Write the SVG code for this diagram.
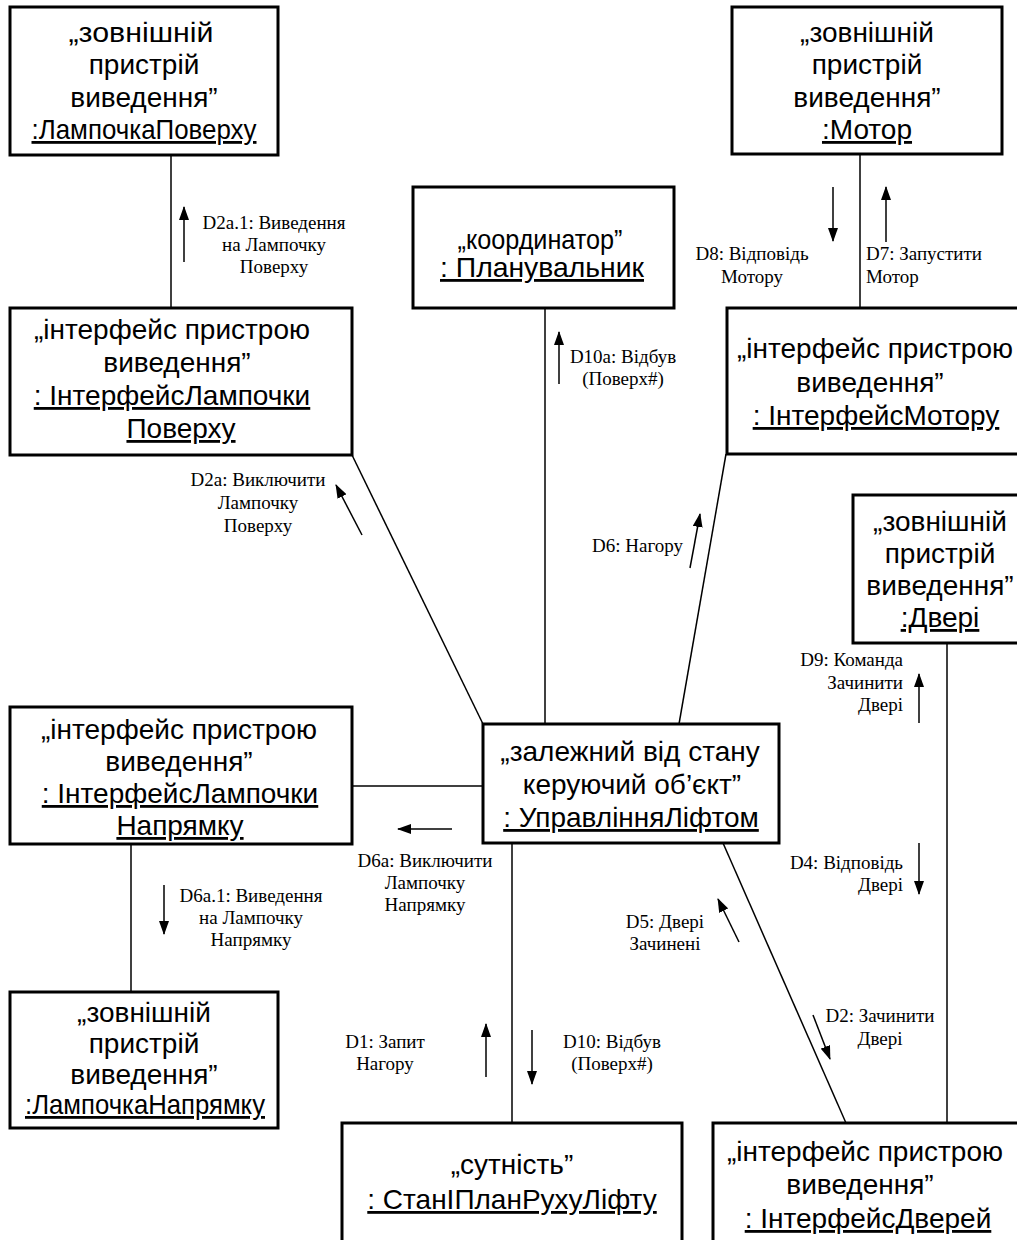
<svg xmlns="http://www.w3.org/2000/svg" width="1017" height="1240" viewBox="0 0 1017 1240">
  <style>
    .box { fill: #fff; stroke: #000; stroke-width: 3; }
    .link { stroke: #000; stroke-width: 1.5; fill: none; }
    .msg { stroke: #000; stroke-width: 1.5; fill: none; marker-end: url(#head); }
    .t { font-family: "Liberation Sans", Arial, sans-serif; font-size: 28px; fill: #000; text-anchor: middle; }
    .u { text-decoration: underline; }
    .lbl { font-family: "Liberation Serif", "Times New Roman", serif; font-size: 19px; fill: #000; text-anchor: middle; }
    .r { text-anchor: end; }
    .l { text-anchor: start; }
  </style>
  <defs>
    <marker id="head" viewBox="0 0 14 10" refX="13" refY="5" markerWidth="14" markerHeight="10" markerUnits="userSpaceOnUse" orient="auto">
      <path d="M0,0 L14,5 L0,10 z" fill="#000"/>
    </marker>
  </defs>
  <rect width="1017" height="1240" fill="#fff"/>

  <!-- links between objects -->
  <g id="connectors">
    <line class="link" x1="171" y1="155" x2="171" y2="308"/>
    <line class="link" x1="860" y1="154" x2="860" y2="308"/>
    <line class="link" x1="545" y1="308" x2="545" y2="724"/>
    <line class="link" x1="352" y1="455" x2="483" y2="724"/>
    <line class="link" x1="726" y1="454" x2="679" y2="724"/>
    <line class="link" x1="352" y1="786" x2="483" y2="786"/>
    <line class="link" x1="131" y1="844" x2="131" y2="992"/>
    <line class="link" x1="512" y1="843" x2="512" y2="1123"/>
    <line class="link" x1="723" y1="843" x2="846" y2="1123"/>
    <line class="link" x1="947" y1="643" x2="947" y2="1123"/>

    <!-- message arrows -->
    <line class="msg" x1="184" y1="262" x2="184" y2="207"/>
    <line class="msg" x1="833" y1="187" x2="833" y2="241"/>
    <line class="msg" x1="886" y1="242" x2="886" y2="187"/>
    <line class="msg" x1="559" y1="384" x2="559" y2="332"/>
    <line class="msg" x1="362" y1="535" x2="336" y2="485"/>
    <line class="msg" x1="690" y1="568" x2="700" y2="514"/>
    <line class="msg" x1="919" y1="723" x2="919" y2="674"/>
    <line class="msg" x1="452" y1="829" x2="398" y2="829"/>
    <line class="msg" x1="919" y1="843" x2="919" y2="894"/>
    <line class="msg" x1="164" y1="885" x2="164" y2="934"/>
    <line class="msg" x1="739" y1="942" x2="718" y2="899"/>
    <line class="msg" x1="486" y1="1077" x2="486" y2="1024"/>
    <line class="msg" x1="532" y1="1030" x2="532" y2="1084"/>
    <line class="msg" x1="813" y1="1015" x2="830" y2="1059"/>

    <!-- message labels -->
    <text class="lbl"><tspan x="274" y="229">D2a.1: Виведення</tspan><tspan x="274" y="251">на Лампочку</tspan><tspan x="274" y="273">Поверху</tspan></text>
    <text class="lbl"><tspan x="752" y="260">D8: Відповідь</tspan><tspan x="752" y="283">Мотору</tspan></text>
    <text class="lbl l"><tspan x="866" y="260">D7: Запустити</tspan><tspan x="866" y="283">Мотор</tspan></text>
    <text class="lbl"><tspan x="623" y="363">D10a: Відбув</tspan><tspan x="623" y="385">(Поверх#)</tspan></text>
    <text class="lbl"><tspan x="258" y="486">D2a: Виключити</tspan><tspan x="258" y="509">Лампочку</tspan><tspan x="258" y="532">Поверху</tspan></text>
    <text class="lbl r" x="683" y="552">D6: Нагору</text>
    <text class="lbl r"><tspan x="903" y="666">D9: Команда</tspan><tspan x="903" y="689">Зачинити</tspan><tspan x="903" y="711">Двері</tspan></text>
    <text class="lbl r"><tspan x="903" y="869">D4: Відповідь</tspan><tspan x="903" y="891">Двері</tspan></text>
    <text class="lbl"><tspan x="425" y="867">D6a: Виключити</tspan><tspan x="425" y="889">Лампочку</tspan><tspan x="425" y="911">Напрямку</tspan></text>
    <text class="lbl"><tspan x="251" y="902">D6a.1: Виведення</tspan><tspan x="251" y="924">на Лампочку</tspan><tspan x="251" y="946">Напрямку</tspan></text>
    <text class="lbl"><tspan x="665" y="928">D5: Двері</tspan><tspan x="665" y="950">Зачинені</tspan></text>
    <text class="lbl"><tspan x="385" y="1048">D1: Запит</tspan><tspan x="385" y="1070">Нагору</tspan></text>
    <text class="lbl"><tspan x="612" y="1048">D10: Відбув</tspan><tspan x="612" y="1070">(Поверх#)</tspan></text>
    <text class="lbl"><tspan x="880" y="1022">D2: Зачинити</tspan><tspan x="880" y="1045">Двері</tspan></text>
  </g>

  <g id="lamp-floor">
    <rect class="box" x="10" y="7" width="268" height="148"/>
    <text class="t" x="141" y="42" textLength="145" lengthAdjust="spacingAndGlyphs">„зовнішній</text>
    <text class="t" x="144" y="74">пристрій</text>
    <text class="t" x="144" y="107">виведення”</text>
    <text class="t u" x="144" y="139" textLength="225" lengthAdjust="spacingAndGlyphs">:ЛампочкаПоверху</text>
  </g>

  <g id="lamp-floor-interface">
    <rect class="box" x="10" y="308" width="342" height="147"/>
    <text class="t" x="172" y="339">„інтерфейс пристрою</text>
    <text class="t" x="177" y="372">виведення”</text>
    <text class="t u" x="172" y="405">: ІнтерфейсЛампочки</text>
    <text class="t u" x="181" y="438">Поверху</text>
  </g>

  <g id="motor">
    <rect class="box" x="732" y="7" width="270" height="147"/>
    <text class="t" x="867" y="42">„зовнішній</text>
    <text class="t" x="867" y="74">пристрій</text>
    <text class="t" x="867" y="107">виведення”</text>
    <text class="t u" x="867" y="139">:Мотор</text>
  </g>

  <g id="scheduler">
    <rect class="box" x="413" y="187" width="261" height="121"/>
    <text class="t" x="540" y="249" textLength="165" lengthAdjust="spacingAndGlyphs">„координатор”</text>
    <text class="t u" x="542" y="277" textLength="204" lengthAdjust="spacingAndGlyphs">: Планувальник</text>
  </g>

  <g id="motor-interface">
    <rect class="box" x="727" y="308" width="310" height="146"/>
    <text class="t" x="875" y="358">„інтерфейс пристрою</text>
    <text class="t" x="870" y="392">виведення”</text>
    <text class="t u" x="876" y="425">: ІнтерфейсМотору</text>
  </g>

  <g id="door">
    <rect class="box" x="853" y="495" width="190" height="148"/>
    <text class="t" x="940" y="531">„зовнішній</text>
    <text class="t" x="940" y="563">пристрій</text>
    <text class="t" x="940" y="595">виведення”</text>
    <text class="t u" x="940" y="627">:Двері</text>
  </g>

  <g id="elevator-control">
    <rect class="box" x="483" y="724" width="296" height="119"/>
    <text class="t" x="630" y="761">„залежний від стану</text>
    <text class="t" x="632" y="794">керуючий об’єкт”</text>
    <text class="t u" x="631" y="827">: УправлінняЛіфтом</text>
  </g>

  <g id="lamp-direction-interface">
    <rect class="box" x="10" y="707" width="342" height="137"/>
    <text class="t" x="179" y="739">„інтерфейс пристрою</text>
    <text class="t" x="179" y="771">виведення”</text>
    <text class="t u" x="180" y="803">: ІнтерфейсЛампочки</text>
    <text class="t u" x="180" y="835">Напрямку</text>
  </g>

  <g id="lamp-direction">
    <rect class="box" x="10" y="992" width="268" height="136"/>
    <text class="t" x="144" y="1022">„зовнішній</text>
    <text class="t" x="144" y="1053">пристрій</text>
    <text class="t" x="144" y="1084">виведення”</text>
    <text class="t u" x="145" y="1114" textLength="240" lengthAdjust="spacingAndGlyphs">:ЛампочкаНапрямку</text>
  </g>

  <g id="elevator-status">
    <rect class="box" x="342" y="1123" width="340" height="130"/>
    <text class="t" x="512" y="1174">„сутність”</text>
    <text class="t u" x="512" y="1209">: СтанІПланРухуЛіфту</text>
  </g>

  <g id="door-interface">
    <rect class="box" x="713" y="1123" width="330" height="130"/>
    <text class="t" x="865" y="1161">„інтерфейс пристрою</text>
    <text class="t" x="860" y="1194">виведення”</text>
    <text class="t u" x="868" y="1228">: ІнтерфейсДверей</text>
  </g>
</svg>
